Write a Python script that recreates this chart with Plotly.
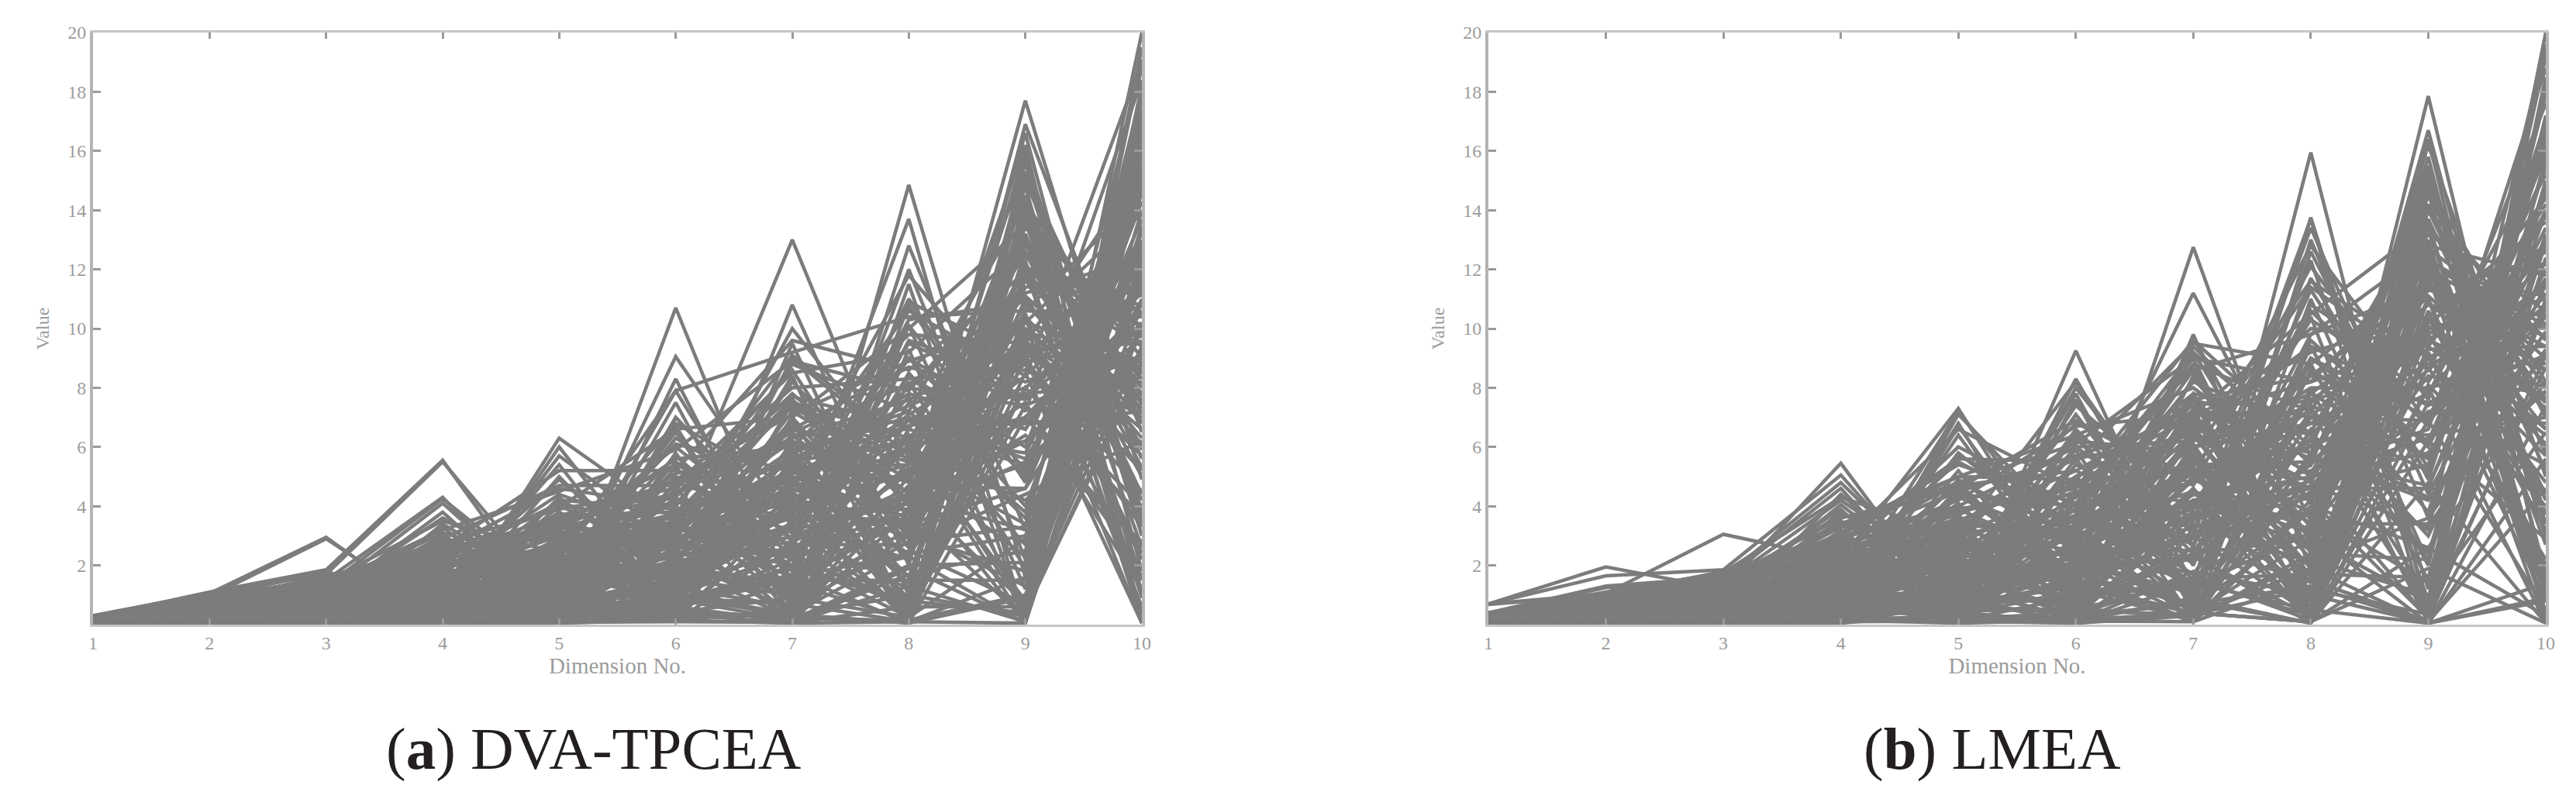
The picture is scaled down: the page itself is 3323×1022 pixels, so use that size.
import plotly.graph_objects as go

dimensions = [1, 2, 3, 4, 5, 6, 7, 8, 9, 10]
value_ticks = [2, 4, 6, 8, 10, 12, 14, 16, 18, 20]

# each row is one solution
dva_tpcea = [
    [.25,1.10,1.85,5.55,.10,10.70,1.00,14.85,1.60,20.00],
    [.30,1.05,1.70,5.50,.85,9.05,3.30,13.70,.10,19.50],
    [.22,.95,1.50,4.30,.20,8.30,.60,12.80,3.20,18.80],
    [.20,.90,1.30,4.25,1.10,7.90,1.50,12.00,2.20,18.00],
    [.28,.85,1.10,4.10,.60,7.50,.20,11.50,.05,17.30],
    [.18,.80,.90,3.80,.30,7.00,2.80,11.00,5.10,16.50],
    [.15,.70,1.00,3.60,1.50,6.50,.90,10.10,1.20,15.80],
    [.24,.75,.70,3.30,.15,5.80,.10,9.30,.05,15.00],
    [.12,.60,.85,2.90,.90,5.30,1.80,8.50,4.00,14.30],
    [.20,.65,.50,2.60,.50,4.80,3.50,7.70,.60,13.50],
    [.10,.50,.60,2.30,1.20,4.30,.40,7.00,2.70,12.70],
    [.16,.55,.40,2.00,.25,3.90,2.20,6.30,.05,12.00],
    [.08,.40,.30,1.60,.70,3.50,1.10,5.50,3.40,11.00],
    [.14,.45,.25,1.30,1.80,3.10,.15,4.50,.70,10.00],
    [.06,.30,.20,1.00,.40,2.60,2.50,3.80,5.50,9.20],
    [.10,.35,.15,.80,1.00,2.20,.50,3.00,1.80,14.80],
    [.05,.25,.10,.60,.10,1.70,1.30,2.30,.05,16.20],
    [.07,.20,.35,.50,.60,1.30,.10,1.70,2.50,13.00],
    [.12,.15,.55,.35,.20,.90,.70,.10,.05,17.80],
    [.05,.10,.45,.25,.05,.50,.20,.15,1.00,11.60],
    [.30,.60,1.45,3.50,2.40,6.80,4.60,11.80,7.20,18.40],
    [.26,.75,1.20,3.10,2.00,6.10,5.20,10.60,8.40,19.00],
    [.18,.50,1.05,2.70,2.90,5.60,6.00,9.80,9.50,15.40],
    [.14,.40,.80,2.40,3.30,4.90,7.10,8.90,10.20,13.90],
    [.09,.35,.65,2.10,2.60,4.40,6.50,8.10,11.20,12.40],
    [.22,.55,.95,1.80,3.70,3.80,5.60,7.40,9.00,10.80],
    [.16,.45,.75,1.50,2.20,3.30,4.90,6.70,8.00,11.40],
    [.11,.30,.55,1.20,1.60,2.90,4.20,6.00,7.00,9.60],
    [.07,.25,.40,.95,1.30,2.40,3.60,5.20,6.20,8.80],
    [.05,.18,.28,.70,.90,1.90,3.00,4.40,9.80,7.60],
    [.20,.70,1.25,2.75,3.90,4.60,8.00,8.30,8.60,14.00],
    [.13,.42,.62,2.20,3.10,3.60,7.40,5.80,12.60,8.30],
    [.09,.28,.48,1.70,2.70,2.70,6.90,3.20,10.60,10.40],
    [.06,.22,.33,1.10,2.10,1.50,5.40,7.80,6.60,12.20],
    [.04,.12,.22,.85,1.70,.80,4.40,9.00,5.00,10.90],
    [.30,1.05,2.95,.15,6.30,3.50,13.00,3.40,17.70,4.90],
    [.28,.95,2.90,.30,6.00,1.00,10.80,2.00,16.90,6.50],
    [.24,.90,1.80,.60,5.70,2.80,10.00,5.00,16.20,.10],
    [.22,.85,1.60,.90,5.40,.40,9.50,1.00,15.60,3.00],
    [.20,.80,1.40,1.40,4.90,2.00,8.40,.20,15.00,7.40],
    [.18,.70,1.20,1.80,4.40,3.00,7.60,4.20,14.50,.30],
    [.16,.60,1.05,1.00,3.80,1.20,7.00,2.60,14.00,5.60],
    [.14,.55,.95,.40,3.50,.60,5.90,.60,13.70,1.50],
    [.12,.50,.85,1.20,3.20,.20,5.30,3.80,13.00,8.00],
    [.10,.45,.70,.70,2.80,1.60,4.80,1.40,12.30,.10],
    [.09,.40,.60,.20,2.40,.80,4.20,.10,11.70,4.20],
    [.08,.35,.50,.50,1.20,.30,3.50,2.20,11.00,6.00],
    [.07,.30,.40,.25,1.00,.10,2.80,.40,10.50,.60],
    [.06,.25,.30,.15,.80,.50,2.00,.70,10.00,2.20],
    [.05,.20,.20,.10,.60,.25,1.40,.15,9.50,7.00],
    [.25,.75,1.65,2.50,4.60,4.00,9.10,6.00,15.30,6.80],
    [.20,.65,1.35,2.20,4.10,3.20,8.80,7.20,14.20,9.00],
    [.15,.50,1.10,1.90,3.60,4.80,7.30,5.60,13.40,10.00],
    [.12,.40,.90,1.60,3.00,2.60,6.40,6.60,12.80,7.80],
    [.10,.32,.72,1.35,2.50,5.10,6.10,4.80,12.00,9.40],
    [.08,.26,.58,1.05,2.00,3.40,5.00,3.60,11.40,11.80],
    [.06,.20,.45,.78,1.50,2.30,4.60,2.90,9.20,8.60],
    [.05,.15,.32,.55,1.10,1.80,3.80,.30,8.50,.05],
    [.04,.10,.26,.40,.75,1.40,3.20,1.20,8.00,3.60],
    [.03,.06,.18,.30,.45,1.00,2.40,.50,7.40,1.90],
    [.02,.05,.10,.16,.30,.70,1.70,.05,7.00,2.60],
    [.20,.80,1.20,2.50,2.30,7.90,9.20,10.40,10.60,14.50],
    [.16,.62,1.00,2.00,3.40,5.40,3.70,10.90,9.00,12.80],
    [.12,.48,.78,1.55,2.80,6.00,2.90,10.30,10.90,6.30],
    [.09,.38,.60,1.25,1.90,4.20,2.00,9.60,8.20,9.90],
    [.07,.28,.42,.90,1.40,3.00,6.60,8.70,7.60,11.20],
    [.05,.20,.30,.65,.95,2.10,5.80,7.20,3.80,15.10],
    [.03,.14,.20,.42,.65,1.50,4.00,6.40,5.80,13.20],
    [.04,.09,.12,.28,.35,.95,.30,5.00,.05,16.80],
    [.02,.06,.08,.18,.20,.60,.10,1.90,.05,18.20],
    [.03,.04,.05,.12,.10,.35,.05,.60,.60,9.40],
    [.02,.03,.04,.06,.05,.15,.05,.10,1.60,10.20],
    [.10,.30,.68,1.45,2.20,3.70,5.10,6.90,7.80,8.20],
    [.08,.24,.52,1.15,1.75,2.80,4.30,5.40,6.80,7.20],
    [.06,.17,.36,.82,1.25,2.00,3.40,4.10,5.40,9.00],
    [.04,.12,.24,.58,.85,1.20,2.60,3.40,4.60,10.60],
    [.03,.08,.16,.38,.55,.75,1.60,2.40,3.00,12.60],
    [.15,.58,.88,1.75,2.60,4.50,6.30,7.60,9.40,5.20],
    [.11,.44,.66,1.40,2.00,3.20,5.50,6.20,8.80,3.30],
    [.08,.33,.46,1.00,1.45,2.50,4.70,5.00,7.50,1.20],
    [.05,.23,.34,.72,1.05,1.65,3.90,3.90,6.40,2.80],
    [.04,.13,.26,.46,.70,1.10,2.70,2.70,4.40,6.20],
    [.03,.07,.14,.33,.48,.82,1.90,.80,.40,8.90],
    [.02,.05,.09,.22,.26,.42,.90,.25,2.90,11.50],
    [.03,.08,.13,.10,.15,.20,.35,.05,.90,14.00],
    [.13,.52,.82,1.85,3.30,4.10,7.80,4.40,13.20,3.90],
    [.10,.40,.64,1.50,2.55,3.50,6.70,3.00,12.20,5.00],
    [.07,.29,.47,1.15,1.95,2.60,5.70,1.60,11.00,8.50],
    [.05,.21,.37,.85,1.35,1.85,4.50,.90,10.30,2.40],
    [.03,.11,.23,.52,.85,1.25,3.30,.35,9.70,.05],
]

# the solid mass under the peaks
dva_tpcea_mass = [
    [.30,.88,.30,2.20,.40,4.60,.70,8.20,1.90,17.00],
    [.10,.20,1.30,.30,3.00,.50,6.20,1.20,13.60,2.60],
    [.26,.72,.18,1.90,.15,4.00,1.20,7.50,3.60,16.00],
    [.08,.15,1.10,.20,2.60,.30,5.60,.70,12.60,4.40],
    [.24,.68,.12,1.70,.80,3.60,.25,6.60,5.40,12.90],
    [.06,.28,.95,.55,2.30,1.10,4.90,2.40,14.80,1.10],
    [.22,.62,.45,1.50,1.00,3.30,1.60,6.10,.80,15.50],
    [.12,.34,.80,.70,2.00,1.45,4.30,3.00,11.80,6.80],
    [.20,.58,.55,1.30,.60,2.80,2.00,5.30,2.30,14.60],
    [.14,.40,.70,.85,1.75,1.70,3.70,3.50,15.80,3.70],
    [.18,.52,.35,1.15,.35,2.50,.85,4.70,4.60,13.70],
    [.05,.46,.60,1.00,1.55,1.95,3.20,4.10,12.90,5.30],
    [.28,.48,.25,.95,.55,2.25,.45,4.20,6.20,10.20],
    [.09,.12,.50,1.25,1.30,2.15,2.80,4.60,10.80,7.30],
    [.16,.36,.15,.75,.25,1.95,1.40,3.60,7.00,11.30],
    [.11,.24,.42,1.45,1.15,2.40,2.40,5.10,9.90,8.70],
    [.21,.30,.68,.65,.75,1.55,1.00,3.20,1.30,16.40],
    [.07,.18,.78,1.60,1.90,2.75,5.00,.50,14.10,.05],
    [.25,.42,.22,.48,.18,1.25,.60,2.80,3.30,13.30],
    [.13,.27,.88,1.80,2.10,3.10,4.40,1.60,13.10,.90],
    [.19,.54,.32,.36,.45,1.05,.35,2.50,.70,12.30],
    [.04,.21,1.00,2.05,2.40,3.40,6.80,2.10,15.20,3.40],
    [.17,.38,.62,.58,.30,.85,.15,2.00,2.10,17.50],
    [.09,.16,1.15,1.35,2.80,3.75,7.60,3.10,16.00,.20],
    [.23,.66,.38,.28,.68,.65,1.50,1.50,1.50,15.30],
    [.06,.10,.92,1.05,3.50,4.30,8.60,2.60,16.60,1.80],
    [.15,.44,.74,2.35,.12,.40,.30,1.00,.30,19.10],
    [.03,.26,1.25,1.65,1.60,.20,6.00,.20,14.40,5.90],
    [.27,.78,.58,2.80,1.35,5.00,3.10,9.00,6.60,13.00],
    [.10,.32,1.40,1.10,3.60,2.10,7.20,4.90,12.10,9.80],
    [.29,.82,.85,3.00,.95,5.50,2.60,10.10,5.20,14.90],
    [.08,.22,1.55,.65,4.00,2.50,8.20,4.00,13.80,7.70],
    [.19,.64,1.00,2.50,1.40,6.30,3.90,9.50,7.70,11.80],
    [.12,.36,1.75,.35,4.30,1.35,9.00,5.70,11.60,10.80],
    [.14,.56,.52,2.15,1.70,5.70,2.30,8.40,6.00,15.70],
    [.05,.14,1.30,.95,3.80,.75,7.50,6.30,10.20,8.90],
    [.23,.74,.28,3.40,1.05,6.70,.55,10.80,4.80,16.10],
    [.07,.19,1.60,.45,5.00,.95,7.00,.40,14.90,7.10],
    [.17,.47,.40,2.00,2.50,4.20,4.00,7.10,9.30,9.50],
    [.11,.33,.75,1.55,3.10,2.85,5.30,5.40,8.40,12.10],
    [.02,.16,.56,1.75,2.25,3.50,6.20,4.50,10.00,6.60],
    [.13,.41,.68,1.28,2.75,1.80,3.40,6.90,6.80,10.60],
    [.04,.13,.16,.60,.12,2.00,.20,6.40,.45,8.60],
    [.20,.50,.34,1.18,.22,3.00,.12,3.80,.20,10.90],
    [.15,.60,.44,.78,.08,.10,.08,1.30,.10,12.50],
    [.02,.08,.20,1.38,1.20,.15,4.10,.08,12.00,.40],
    [.09,.24,.48,1.08,2.90,.35,5.50,.12,9.10,1.60],
    [.06,.12,.26,.88,2.15,.55,2.20,.25,8.00,4.00],
    [.24,.70,.90,1.62,3.40,2.65,6.40,3.30,9.60,5.70],
    [.18,.56,.66,1.22,4.20,3.90,4.70,8.00,7.40,9.10],
    [.12,.35,.46,.92,2.45,3.25,5.90,7.00,5.60,11.70],
    [.05,.19,.36,.68,.58,2.60,3.80,5.90,4.20,7.90],
    [.08,.29,.24,.44,1.85,1.60,3.00,4.30,3.20,9.30],
    [.21,.63,1.15,2.30,3.70,4.40,7.70,6.70,11.10,7.50],
    [.16,.49,.94,1.92,3.25,3.00,6.60,5.50,10.40,6.10],
    [.10,.31,.72,1.48,2.65,2.20,5.20,2.30,8.90,4.50],
    [.28,.85,1.35,3.20,4.50,5.90,8.90,7.90,12.40,10.10],
    [.22,.76,1.48,2.60,5.20,5.20,9.60,8.60,11.90,11.10],
    [.25,.66,1.18,2.90,4.70,4.70,8.50,9.20,12.80,9.70],
    [.18,.53,1.08,2.45,3.95,6.60,7.00,10.00,13.50,8.00],
]

lmea = [
    [.70,1.95,1.20,5.45,.10,9.25,.60,15.95,.30,20.00],
    [.70,1.65,1.85,5.05,.60,8.30,1.40,13.75,1.20,19.20],
    [.40,1.30,1.60,4.80,.90,8.00,3.00,13.70,.05,18.50],
    [.38,1.25,1.50,4.60,.30,7.60,.40,13.00,3.60,18.00],
    [.35,1.05,1.40,4.20,1.50,7.10,2.00,12.30,.80,17.20],
    [.33,1.00,1.25,3.90,.20,6.50,.90,11.70,5.00,16.40],
    [.30,.95,1.10,3.50,1.10,5.90,.15,11.00,2.10,15.60],
    [.28,.90,.95,2.90,.40,5.40,3.60,10.40,.10,14.80],
    [.25,.80,.80,2.30,.75,4.90,1.10,9.60,6.00,14.00],
    [.22,.70,.70,1.70,.15,4.40,2.70,8.80,1.50,13.20],
    [.20,.60,.55,1.20,1.30,3.90,.30,8.00,.05,12.40],
    [.18,.50,.45,2.60,.50,3.40,4.00,7.30,3.00,11.50],
    [.15,.42,.35,3.20,.25,2.90,1.70,6.50,.60,10.70],
    [.12,.35,.28,2.10,.95,2.40,.50,5.70,4.20,9.90],
    [.10,.28,.22,1.50,.35,1.90,2.30,4.90,.20,9.10],
    [.08,.22,.16,1.05,.65,1.40,.10,4.00,2.60,8.20],
    [.06,.16,.12,.70,.12,.95,1.30,3.10,.05,7.40],
    [.05,.10,.08,.45,.45,.55,.25,2.20,1.00,6.50],
    [.04,.06,.05,.25,.08,.30,.70,1.30,.05,5.60],
    [.03,.05,.04,.15,.05,.15,.40,.10,1.90,.05],
    [.30,.90,1.35,3.70,2.90,6.80,5.00,12.80,7.60,17.60],
    [.26,.78,1.15,3.30,3.20,6.20,5.80,11.40,8.60,16.00],
    [.22,.65,.98,2.75,3.70,5.60,6.40,10.00,9.40,14.40],
    [.18,.55,.82,2.40,2.40,5.00,7.00,9.20,10.40,13.60],
    [.14,.44,.66,2.00,1.90,4.30,7.60,8.40,11.40,12.20],
    [.11,.36,.52,1.60,2.20,3.70,6.80,7.60,10.00,11.00],
    [.08,.28,.40,1.25,1.60,3.10,6.00,6.80,8.80,10.20],
    [.06,.20,.30,.90,1.20,2.60,5.20,6.00,7.80,15.20],
    [.04,.14,.20,.60,.80,2.00,4.40,5.20,6.60,18.80],
    [.03,.08,.12,.38,.50,1.50,3.60,4.40,5.40,16.80],
    [.70,1.05,3.05,2.20,7.30,1.00,12.75,1.80,17.85,1.40],
    [.68,1.00,1.80,.30,7.10,3.00,11.20,3.50,16.20,5.00],
    [.40,.95,1.70,.60,6.80,.30,9.80,.50,15.50,.10],
    [.36,.90,1.55,1.00,7.20,2.20,9.40,5.40,15.00,3.40],
    [.32,.85,1.45,.20,6.70,1.30,9.70,2.40,14.50,7.00],
    [.30,.78,1.30,1.40,5.70,3.80,9.00,.90,13.60,.30],
    [.27,.70,1.15,.45,5.20,.60,8.40,4.20,12.40,9.00],
    [.24,.62,1.00,.80,4.90,2.60,7.80,.20,12.20,1.60],
    [.21,.55,.88,.15,4.40,1.70,7.20,1.60,11.50,6.00],
    [.18,.48,.75,1.20,4.10,.40,6.60,3.00,11.00,.05],
    [.15,.40,.62,.35,3.70,.15,6.00,.10,10.40,3.20],
    [.12,.33,.50,.70,3.20,1.00,5.30,.60,9.80,4.80],
    [.10,.26,.40,.22,2.90,.50,4.50,2.00,9.20,.80],
    [.08,.20,.30,.50,1.90,.25,3.80,1.20,8.70,2.20],
    [.06,.15,.22,.12,1.40,.10,3.00,.35,8.00,.05],
    [.05,.10,.15,.30,1.00,.70,2.30,.05,7.50,5.40],
    [.04,.07,.10,.08,.70,.35,1.60,.15,6.90,.50],
    [.03,.05,.06,.05,.40,.10,.90,.05,6.20,2.90],
    [.36,.92,1.62,2.70,6.60,4.60,9.60,6.00,14.80,8.20],
    [.30,.80,1.38,2.30,6.00,4.00,8.80,7.20,14.00,9.60],
    [.26,.70,1.20,2.00,5.50,3.40,8.20,6.50,13.20,10.60],
    [.22,.60,1.02,1.70,4.70,5.20,7.40,5.60,12.80,11.80],
    [.18,.50,.86,1.45,4.30,2.80,6.80,4.80,11.80,8.60],
    [.15,.42,.70,1.15,3.90,2.10,6.20,7.80,10.80,10.00],
    [.12,.34,.56,.92,3.40,1.55,5.60,3.80,9.60,12.60],
    [.09,.26,.44,.72,2.70,1.15,4.90,3.20,8.40,7.80],
    [.07,.18,.32,.52,2.20,.80,4.10,2.70,7.20,6.80],
    [.05,.12,.24,.36,1.70,.45,3.40,2.10,3.60,9.20],
    [.04,.08,.16,.24,1.25,.20,2.60,1.50,.10,4.60],
    [.03,.05,.10,.14,.85,.08,1.80,1.00,.05,.80],
    [.40,1.10,1.75,4.30,3.00,8.20,2.60,13.40,4.40,12.00],
    [.34,1.02,1.48,3.60,4.60,6.90,4.70,12.10,6.80,13.00],
    [.28,.88,1.22,3.00,4.00,6.00,6.20,11.60,9.00,11.40],
    [.24,.72,1.05,2.55,3.50,5.20,3.20,10.80,8.20,14.20],
    [.20,.58,.90,2.15,3.10,4.50,2.20,9.80,11.40,9.40],
    [.16,.47,.72,1.80,2.50,3.60,1.20,9.00,7.00,13.80],
    [.13,.38,.58,1.40,2.00,3.00,.20,8.60,6.20,15.40],
    [.10,.30,.46,1.10,1.50,2.30,.50,7.00,5.20,16.60],
    [.07,.22,.34,.80,1.10,1.75,.10,5.80,3.20,19.60],
    [.05,.14,.25,.55,.72,1.25,.40,.10,2.60,.30],
    [.04,.09,.18,.35,.42,.05,.40,.10,4.80,.05],
    [.03,.06,.11,.20,.25,.05,1.40,.50,.05,1.40],
    [.03,.04,.07,.10,.12,.05,.30,1.90,.05,.90],
    [.35,.98,1.32,3.40,5.00,6.40,8.00,5.00,10.20,12.80],
    [.29,.84,1.12,2.85,4.50,5.70,7.00,8.20,9.60,8.00],
    [.23,.66,.92,2.35,3.80,4.70,6.50,9.40,7.40,10.80],
    [.19,.54,.78,1.95,3.00,3.90,5.50,8.00,8.00,9.00],
    [.14,.42,.60,1.50,2.60,3.20,4.80,6.80,6.40,7.00],
    [.11,.32,.48,1.18,2.10,2.50,4.20,5.00,5.80,11.20],
    [.08,.24,.36,.86,1.60,1.85,3.70,4.60,4.60,14.60],
    [.06,.16,.26,.60,1.15,1.30,3.00,3.80,9.80,3.80],
    [.04,.11,.18,.42,.78,.85,2.40,2.90,12.60,4.20],
    [.03,.07,.12,.28,.50,.50,1.50,.30,13.40,1.00],
    [.02,.05,.08,.16,.28,.20,.80,.05,11.00,2.00],
    [.32,.88,1.28,3.10,5.40,4.10,9.20,2.80,15.20,3.00],
    [.25,.74,1.08,2.60,4.80,3.10,8.60,1.00,14.20,5.80],
    [.20,.62,.85,2.20,3.60,2.40,7.60,.30,13.00,.40],
    [.16,.50,.68,1.65,3.30,1.90,6.40,1.90,11.80,7.20],
    [.12,.38,.54,1.28,2.40,1.35,5.80,.80,10.60,1.90],
    [.09,.29,.42,.98,1.80,.90,4.60,.15,9.40,6.40],
]

# the solid mass under the peaks
lmea_mass = [
    [.38,.92,.30,3.00,.50,5.60,.80,9.40,2.00,17.90],
    [.12,.25,1.30,.40,3.30,.60,6.40,1.40,13.30,2.70],
    [.34,.86,.20,2.70,.20,5.00,1.30,8.60,3.80,16.20],
    [.09,.18,1.10,.25,2.80,.35,5.70,.85,12.30,4.40],
    [.30,.76,.14,2.40,.85,4.50,.30,7.80,5.60,13.40],
    [.07,.30,.96,.60,2.50,1.20,5.00,2.60,14.60,1.10],
    [.27,.66,.48,2.10,1.05,4.10,1.70,7.20,.90,15.80],
    [.14,.38,.82,.75,2.20,1.50,4.40,3.10,11.60,6.60],
    [.24,.60,.58,1.85,.65,3.60,2.10,6.30,2.40,14.90],
    [.16,.44,.72,.90,1.85,1.80,3.80,3.70,15.40,3.70],
    [.21,.54,.38,1.60,.38,3.20,.90,5.60,4.70,13.00],
    [.06,.48,.62,1.10,1.65,2.05,3.30,4.30,13.70,5.20],
    [.32,.50,.26,1.35,.58,2.80,.48,5.00,6.30,10.40],
    [.10,.14,.52,1.30,1.40,2.25,2.90,4.90,10.90,7.30],
    [.19,.40,.16,1.12,.28,2.50,1.50,4.50,7.10,11.60],
    [.13,.26,.44,1.50,1.20,2.60,2.50,5.40,9.90,8.60],
    [.25,.32,.70,.92,.78,2.15,1.05,3.80,1.40,16.90],
    [.08,.20,.80,1.70,2.00,2.90,5.10,.55,16.40,.05],
    [.29,.46,.24,.70,.20,1.70,.65,3.40,3.40,13.90],
    [.15,.30,.90,1.90,2.30,3.20,4.50,1.70,12.70,.90],
    [.22,.58,.34,.50,.48,1.40,.38,2.90,.75,12.90],
    [.05,.24,1.02,2.20,2.60,3.50,6.90,2.20,14.90,3.40],
    [.20,.40,.64,.78,.32,1.15,.18,2.40,2.20,18.20],
    [.10,.18,1.18,1.40,3.00,3.85,7.70,3.30,15.80,.20],
    [.28,.70,.40,.42,.72,.85,1.55,1.70,1.60,15.00],
    [.07,.12,.94,1.15,3.90,4.40,8.70,2.80,16.70,1.70],
    [.18,.46,.76,2.60,.14,.45,.35,1.20,.35,19.40],
    [.04,.28,1.30,1.75,1.75,.22,6.10,.22,14.00,5.80],
    [.33,.82,.60,3.80,1.40,6.00,3.20,10.60,6.70,14.60],
    [.11,.34,1.42,1.20,4.40,2.20,7.30,5.10,12.00,9.70],
    [.36,.96,.88,4.05,1.00,6.60,2.70,11.30,5.30,16.80],
    [.09,.24,1.58,.72,5.80,2.60,8.30,4.10,13.50,7.60],
    [.23,.68,1.02,3.50,1.45,7.40,4.00,10.30,7.80,12.70],
    [.14,.38,1.78,.42,4.60,1.40,9.20,5.80,11.30,10.40],
    [.17,.58,.55,2.95,1.75,6.30,2.40,9.00,6.10,15.90],
    [.06,.16,1.34,1.02,4.80,.82,7.60,6.40,10.30,8.80],
    [.28,.78,.30,4.40,1.10,7.80,.60,12.60,4.90,17.00],
    [.08,.21,1.64,.50,6.40,1.00,7.10,.45,14.70,7.10],
    [.20,.52,.42,2.30,2.70,4.80,4.10,7.50,9.30,9.40],
    [.13,.35,.78,1.75,3.40,2.95,5.40,5.50,8.60,12.20],
    [.03,.17,.58,1.95,2.40,3.60,6.30,4.60,10.10,6.60],
    [.15,.43,.70,1.42,2.95,1.90,3.50,7.00,6.90,10.50],
    [.05,.14,.18,.74,.14,2.20,.22,6.60,.50,8.70],
    [.23,.52,.36,1.30,.24,3.30,.14,4.20,.22,11.00],
    [.18,.62,.46,.85,.09,.12,.10,1.50,.12,13.00],
    [.03,.09,.22,1.45,1.25,.18,4.20,.09,11.80,.40],
    [.10,.26,.50,1.16,3.10,.38,5.60,.14,9.20,1.60],
    [.07,.13,.28,.96,2.30,.62,2.30,.28,8.10,4.00],
    [.28,.72,.92,1.88,3.60,2.75,6.50,3.40,9.70,5.70],
    [.21,.59,.68,1.36,4.40,4.00,4.80,8.40,7.50,9.10],
    [.14,.37,.48,1.02,2.60,3.35,6.00,7.40,5.70,11.70],
    [.06,.21,.38,.74,.62,2.70,3.90,6.20,4.30,7.90],
    [.09,.31,.26,.50,1.95,1.70,3.10,4.70,3.30,9.30],
    [.25,.65,1.18,2.50,3.90,4.60,7.80,7.00,11.10,7.50],
    [.19,.51,.96,2.05,3.45,3.15,6.70,5.80,10.30,6.10],
    [.12,.33,.74,1.56,2.85,2.30,5.30,2.50,9.00,4.50],
    [.32,.87,1.38,3.30,4.80,6.10,9.00,8.20,12.30,10.10],
    [.26,.79,1.50,2.80,5.60,5.50,9.50,8.80,11.90,11.10],
    [.29,.68,1.20,3.05,5.00,4.90,8.60,9.80,12.70,9.70],
    [.21,.55,1.10,2.60,4.20,6.70,7.10,10.50,13.50,8.00],
]

LINE_COLOR = "#7c7c7c"
FRAME_COLOR = "#c6c6c6"
TICK_COLOR = "#9a9a9a"
TEXT_COLOR = "#9c9c9c"
AXIS_FONT = "Liberation Serif"

fig = go.Figure()

panels = [(dva_tpcea + dva_tpcea_mass, "x", "y"), (lmea + lmea_mass, "x2", "y2")]
for rows, xaxis, yaxis in panels:
    for row in rows:
        fig.add_trace(go.Scatter(x=dimensions, y=row, mode="lines", xaxis=xaxis, yaxis=yaxis,
                                 line=dict(color=LINE_COLOR, width=4.5),
                                 hoverinfo="skip", showlegend=False))

x_axis = dict(range=[1, 10], tickvals=dimensions, ticks="inside", ticklen=8, tickwidth=3,
              tickcolor=TICK_COLOR, showgrid=False, zeroline=False, showline=True,
              linecolor=FRAME_COLOR, linewidth=3, mirror="ticks", automargin=False,
              tickfont=dict(family=AXIS_FONT, size=24, color=TEXT_COLOR),
              title=dict(text="Dimension No.", standoff=0,
                         font=dict(family=AXIS_FONT, size=29, color=TEXT_COLOR)))
y_axis = dict(range=[0, 20], tickvals=value_ticks, ticks="inside", ticklen=10, tickwidth=3,
              tickcolor=TICK_COLOR, showgrid=False, zeroline=False, showline=True,
              linecolor="#b4b4b4", linewidth=4, mirror="ticks", automargin=False,
              tickfont=dict(family=AXIS_FONT, size=24, color=TEXT_COLOR),
              title=dict(text="Value", standoff=18,
                         font=dict(family=AXIS_FONT, size=24, color=TEXT_COLOR)))

# the page adds 8px round the figure, so the pixel positions below are 8px less than the target's
fig.update_layout(
    width=3323, height=1022, margin=dict(l=0, r=0, t=0, b=0),
    paper_bgcolor="white", plot_bgcolor="white", showlegend=False,
    xaxis=dict(x_axis, domain=[112 / 3323, 1465 / 3323], anchor="y"),
    yaxis=dict(y_axis, domain=[(1022 - 798) / 1022, (1022 - 34) / 1022], anchor="x"),
    xaxis2=dict(x_axis, domain=[1912 / 3323, 3276 / 3323], anchor="y2"),
    yaxis2=dict(y_axis, domain=[(1022 - 798) / 1022, (1022 - 34) / 1022], anchor="x2"),
    annotations=[
        dict(text="(<b>a</b>) DVA-TPCEA", x=758 / 3323, y=1 - 958 / 1022, xref="paper", yref="paper",
             showarrow=False, xanchor="center", yanchor="middle",
             font=dict(family=AXIS_FONT, size=77, color="#231f20")),
        dict(text="(<b>b</b>) LMEA", x=2562 / 3323, y=1 - 958 / 1022, xref="paper", yref="paper",
             showarrow=False, xanchor="center", yanchor="middle",
             font=dict(family=AXIS_FONT, size=77, color="#231f20")),
    ],
)

fig.write_html("out.html")
